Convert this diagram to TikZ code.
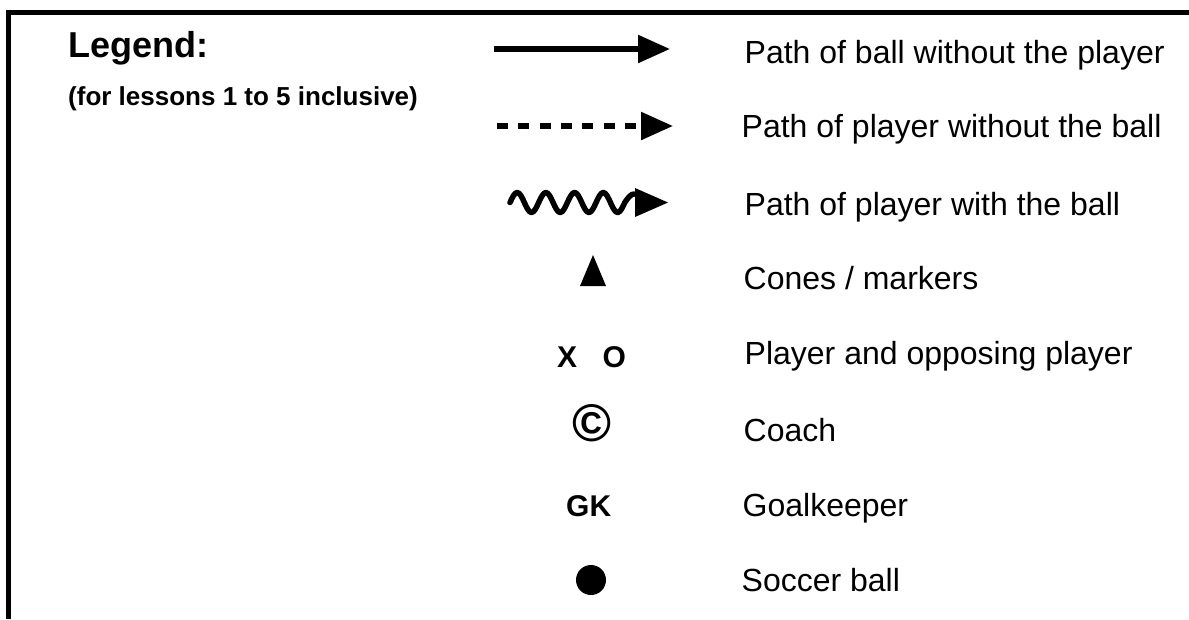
\documentclass[tikz,border=0pt]{standalone}
\usepackage{fontspec}
\setmainfont{Liberation Sans}
\usetikzlibrary{arrows.meta}
\begin{document}
\begin{tikzpicture}[x=1pt,y=-1pt,
  lbl/.style={anchor=base west,inner sep=0pt,font=\fontsize{32}{38}\selectfont},
  sym/.style={anchor=base west,inner sep=0pt,font=\fontsize{30}{36}\selectfont\bfseries},
  frameline/.style={line width=5pt},
  pathline/.style={line width=5.5pt},
  headtip/.style={-{Triangle[length=32pt,width=27pt]}},
]
\useasboundingbox (0,0) rectangle (1189,619);
\fill[white] (0,0) rectangle (1189,619);
% frame
\draw[frameline,line join=miter] (8.5,619) -- (8.5,12.5) -- (1189,12.5);

% title
\node[anchor=base west,inner sep=0pt,font=\fontsize{36}{40}\selectfont\bfseries] (title) at (68,57) {Legend:};
\node[anchor=base west,inner sep=0pt,font=\fontsize{26}{30}\selectfont\bfseries] (sub) at (68,105) {(for lessons 1 to 5 inclusive)};

% solid arrow
\coordinate (a1s) at (494,49);
\coordinate (a1e) at (670,49);
\draw[pathline,headtip] (a1s) -- (a1e);

% dashed arrow
\coordinate (a2s) at (497,126);
\coordinate (a2e) at (673,126);
\draw[pathline,headtip,dash pattern=on 11pt off 10.3pt] (a2s) -- (a2e);

% wavy arrow
\coordinate (a3s) at (510,202.5);
\draw[line width=5.5pt,line cap=round,line join=round] (a3s)
  sin (517.2,192.5) cos (524.35,202.5) sin (531.5,212.5) cos (538.7,202.5)
  sin (545.9,192.5) cos (553.05,202.5) sin (560.2,212.5) cos (567.4,202.5)
  sin (574.6,192.5) cos (581.75,202.5) sin (588.9,212.5) cos (596.1,202.5)
  sin (603.3,192.5) cos (610.45,202.5) sin (617.6,212.5) cos (624.8,202.5)
  sin (634,194);
\fill (635,188) -- (668,202.5) -- (635,217) -- cycle;

% cone
\fill (580,286) -- (606,286) -- (593,255) -- cycle;

% players
\node[sym] (xo) at (557,367) {X\hspace{25.5pt}O};

% coach
\node[inner sep=0pt,font=\fontsize{53}{58}\selectfont\bfseries] (coach) at (592,423.5) {\textcopyright};

% goalkeeper
\node[sym] (gk) at (566,516) {GK};

% ball
\node[circle,fill=black,minimum size=30pt,inner sep=0pt] (ball) at (591,580) {};

% labels
\node[lbl] (t1) at (744.5,63) {Path of ball without the player};
\node[lbl] (t2) at (741.5,137) {Path of player without the ball};
\node[lbl] (t3) at (744.5,215) {Path of player with the ball};
\node[lbl] (t4) at (743.5,289) {Cones / markers};
\node[lbl] (t5) at (744.5,364) {Player and opposing player};
\node[lbl] (t6) at (743.5,441) {Coach};
\node[lbl] (t7) at (742.5,516) {Goalkeeper};
\node[lbl] (t8) at (741.5,591) {Soccer ball};
\end{tikzpicture}
\end{document}
